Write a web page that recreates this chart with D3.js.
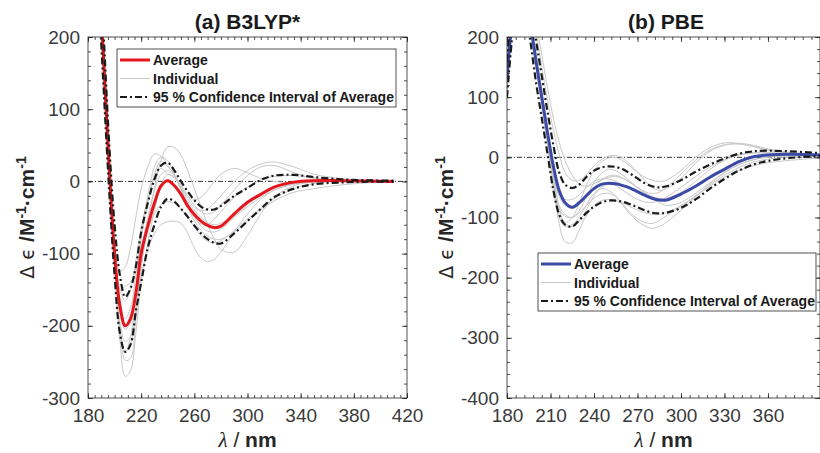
<!DOCTYPE html>
<html lang="en">
<head>
<meta charset="UTF-8">
<title>CD spectra: B3LYP* vs PBE</title>
<script src="https://d3js.org/d3.v7.min.js"></script>
<style>
    body { margin: 0; background: #fff; }
    svg { font-family: "Liberation Sans", Arial, Helvetica, sans-serif; }
    .tick text { fill: #3a3a3a; font-size: 19px; }
    .tick line { stroke: #262626; stroke-width: 0.8px; }
    .domain { display: none; }
    .frame { fill: none; stroke: #262626; stroke-width: 0.8px; }
    .indiv { fill: none; stroke: #c8c8c8; stroke-width: 1px; }
    .ci { fill: none; stroke: #1a1a1a; stroke-width: 2.2px; stroke-dasharray: 7,3,2,3; }
    .zero { stroke: #000; stroke-width: 0.8px; stroke-dasharray: 5,2,1,2; }
    .title { font-size: 21px; font-weight: bold; fill: #1a1a1a; }
    .legend rect { fill: #fff; stroke: #262626; stroke-width: 0.8px; }
    .legend text { font-size: 14px; font-weight: bold; fill: #1a1a1a; }
</style>
</head>
<body>
<svg width="820" height="453"></svg>
<script>
// ---- (a) B3LYP* ----
const lamA = [184,188,192,196,200,204,208,212,216,220,225,230,235,240,245,250,255,260,265,270,275,280,290,300,310,320,335,350,370,390,410];
const avgA = [440,298,160,18,-100,-172,-200,-190,-155,-100,-62,-30,-6,1,-6,-18,-34,-46,-55,-61,-64,-62,-45,-29,-18,-8,-1,1,1,0.5,0];
const upA  = [480,340,195,50,-60,-130,-160,-148,-118,-70,-30,3,22,26,15,0,-14,-26,-35,-39,-39,-34,-20,-9,2,8,9,6,3,1.5,1];
const loA  = [400,260,120,-15,-130,-210,-236,-226,-180,-140,-92,-60,-35,-24,-28,-38,-49,-61,-72,-80,-85,-86,-72,-55,-38,-22,-10,-4,-1.5,-0.5,-0.5];
const indA = [
    [470,330,180,20,-120,-220,-270,-262,-210,-140,-85,-40,-5,10,5,-10,-30,-48,-62,-69,-70,-66,-50,-32,-18,-8,-2,0,0,0,0],
    [420,270,130,0,-90,-124,-118,-92,-50,-10,20,38,35,22,8,-8,-24,-36,-40,-38,-30,-20,0,15,24,27,20,10,4,1,0],
    [450,310,170,15,-110,-200,-248,-245,-190,-120,-60,-10,30,48,47,36,15,-10,-35,-60,-80,-94,-98,-75,-45,-22,-6,-1,0,0,0],
    [460,320,175,25,-105,-210,-238,-215,-150,-80,-30,10,28,20,10,-10,-32,-50,-59,-60,-52,-42,-22,-8,2,7,8,5,2,1,0],
    [440,290,150,0,-120,-195,-222,-215,-180,-130,-95,-72,-60,-56,-55,-58,-72,-92,-106,-111,-108,-98,-70,-45,-25,-12,-3,0,0,0,0],
    [430,285,145,5,-95,-150,-165,-150,-110,-65,-25,5,18,10,6,-8,-20,-25,-22,-12,0,10,18,12,4,0,-2,-1,0,0,0],
    [450,305,160,10,-110,-180,-190,-175,-130,-70,-20,20,34,28,10,-12,-35,-55,-68,-76,-80,-80,-70,-55,-40,-27,-15,-10,-5,-2,-1],
    [450,310,165,12,-115,-205,-235,-225,-175,-115,-65,-30,-8,0,-5,-15,-28,-40,-50,-57,-60,-58,-48,-35,-22,-12,-4,0,1,0,0],
    [445,300,150,5,-105,-150,-145,-140,-120,-90,-65,-45,-32,-28,-30,-38,-50,-63,-75,-83,-85,-82,-68,-52,-38,-24,-10,-3,0,0,0],
    [440,300,155,10,-100,-180,-205,-195,-150,-95,-50,-12,10,15,8,-5,-20,-33,-42,-45,-42,-33,-12,8,20,22,12,4,1,0,0]
];

// ---- (b) PBE ----
const lamB = [180,184,188,192,196,200,204,208,212,216,220,225,230,235,240,245,250,255,260,265,270,275,280,285,290,300,310,320,330,340,350,360,375,396];
const avgB = [130,240,300,285,225,160,100,40,-15,-55,-75,-83,-75,-63,-52,-45,-43,-44,-47,-51,-57,-63,-68,-71,-71,-61,-48,-33,-20,-7,1,4,5,4];
const upB  = [160,270,320,310,255,195,135,75,20,-25,-45,-51,-45,-32,-22,-17,-15,-16,-20,-27,-35,-43,-48,-50,-48,-38,-24,-12,-2,6,10,11,10,7];
const loB  = [100,210,280,260,195,125,65,5,-55,-95,-112,-115,-104,-92,-82,-75,-72,-72,-74,-78,-83,-88,-92,-93,-92,-84,-70,-52,-36,-22,-12,-6,-1,2];
const indB = [
    [120,230,290,280,225,160,95,30,-45,-110,-140,-142,-120,-95,-80,-72,-70,-72,-76,-82,-88,-92,-95,-95,-92,-80,-64,-46,-30,-17,-8,-3,0,1],
    [150,260,320,315,270,210,150,95,45,5,-25,-38,-38,-28,-14,-4,2,3,-2,-12,-25,-38,-50,-55,-52,-35,-10,10,20,23,20,14,8,4],
    [140,245,305,295,240,170,105,40,-30,-80,-95,-100,-88,-65,-42,-27,-20,-22,-30,-40,-50,-57,-60,-58,-50,-28,-5,12,21,22,18,12,7,3],
    [110,220,285,275,215,150,85,20,-55,-100,-115,-112,-98,-78,-60,-52,-55,-65,-80,-95,-106,-114,-118,-115,-108,-88,-66,-44,-26,-12,-4,0,2,2],
    [130,240,300,290,230,165,100,35,-25,-65,-80,-85,-78,-64,-50,-38,-31,-30,-35,-42,-50,-60,-68,-75,-80,-75,-60,-42,-25,-12,-4,1,3,3],
    [145,255,315,300,240,175,110,45,-25,-85,-108,-100,-75,-45,-22,-8,-1,0,-6,-15,-25,-33,-38,-40,-38,-22,0,16,24,23,18,12,7,3],
    [115,225,290,280,220,155,90,25,-40,-85,-98,-100,-92,-80,-68,-61,-60,-65,-78,-92,-102,-108,-110,-105,-97,-82,-65,-48,-33,-22,-14,-9,-5,-1],
    [135,245,305,290,230,165,100,35,-30,-62,-70,-70,-62,-50,-40,-36,-36,-40,-46,-52,-58,-63,-67,-70,-70,-62,-50,-35,-20,-8,0,4,5,4],
    [155,265,325,320,280,225,170,115,65,25,-5,-30,-45,-48,-44,-38,-33,-32,-35,-42,-50,-58,-65,-68,-68,-58,-40,-20,-5,5,8,8,6,3],
    [125,235,295,285,225,160,95,25,-45,-95,-110,-115,-105,-86,-64,-50,-45,-47,-55,-63,-70,-74,-75,-72,-66,-50,-32,-16,-4,4,7,7,5,3]
];

const legendLabels = ["Average", "Individual", "95 % Confidence Interval of Average"];

const svg = d3.select("svg");
const plainNum = d => String(d);   // hyphen minus, as in the original

function drawPanel(p) {
    const x = d3.scaleLinear().domain(p.xDom).range([p.left, p.right]);
    const y = d3.scaleLinear().domain(p.yDom).range([p.bottom, p.top]);
    const g = svg.append("g");

    g.append("clipPath").attr("id", p.id + "clip")
        .append("rect")
        .attr("x", p.left).attr("y", p.top)
        .attr("width", p.right - p.left).attr("height", p.bottom - p.top);

    const plot = g.append("g").attr("clip-path", `url(#${p.id}clip)`);

    plot.append("line").attr("class", "zero")
        .attr("x1", p.left).attr("x2", p.right)
        .attr("y1", y(0)).attr("y2", y(0));

    const line = vals => d3.line()
        .x((d, i) => x(p.lam[i]))
        .y(d => y(d))
        .curve(d3.curveCatmullRom.alpha(0.5))(vals);

    plot.selectAll(".indiv").data(p.ind).enter()
        .append("path").attr("class", "indiv").attr("d", d => line(d));

    plot.append("path").attr("d", line(p.avg))
        .attr("fill", "none").attr("stroke", p.color).attr("stroke-width", 3);

    plot.selectAll(".ci").data([p.up, p.lo]).enter()
        .append("path").attr("class", "ci").attr("d", d => line(d));

    // ticks, all four sides, pointing inward
    const h = p.bottom - p.top, w = p.right - p.left;
    g.append("g").attr("transform", `translate(0,${p.bottom})`)
        .call(d3.axisBottom(x).tickValues(p.xMinor).tickSize(-3).tickFormat(""));
    g.append("g").attr("transform", `translate(0,${p.bottom})`)
        .call(d3.axisBottom(x).tickValues(p.xMajor).tickSize(-5).tickPadding(11).tickFormat(plainNum));
    g.append("g").attr("transform", `translate(0,${p.top})`)
        .call(d3.axisTop(x).tickValues(p.xMinor).tickSize(-3).tickFormat(""));
    g.append("g").attr("transform", `translate(0,${p.top})`)
        .call(d3.axisTop(x).tickValues(p.xMajor).tickSize(-5).tickFormat(""));

    g.append("g").attr("transform", `translate(${p.left},0)`)
        .call(d3.axisLeft(y).tickValues(p.yMinor).tickSize(-3).tickFormat(""));
    g.append("g").attr("transform", `translate(${p.left},0)`)
        .call(d3.axisLeft(y).tickValues(p.yMajor).tickSize(-5).tickPadding(8).tickFormat(plainNum));
    g.append("g").attr("transform", `translate(${p.right},0)`)
        .call(d3.axisRight(y).tickValues(p.yMinor).tickSize(-3).tickFormat(""));
    g.append("g").attr("transform", `translate(${p.right},0)`)
        .call(d3.axisRight(y).tickValues(p.yMajor).tickSize(-5).tickFormat(""));

    g.selectAll(".tick text").style("font-family", '"Liberation Sans", Arial, sans-serif');

    g.append("rect").attr("class", "frame")
        .attr("x", p.left).attr("y", p.top).attr("width", w).attr("height", h);

    // title
    g.append("text").attr("class", "title")
        .attr("x", p.titleX).attr("y", 29)
        .attr("text-anchor", "middle").text(p.title);

    // x label
    const xl = g.append("text")
        .attr("x", (p.left + p.right) / 2).attr("y", 447)
        .attr("text-anchor", "middle").attr("font-size", 21).attr("fill", "#262626");
    xl.append("tspan").attr("font-family", '"Liberation Serif", serif').attr("font-style", "italic").text("λ");
    xl.append("tspan").text(" / ");
    xl.append("tspan").attr("font-weight", "bold").text("nm");

    // y label
    const yl = g.append("text")
        .attr("transform", `translate(${p.left - 54},${(p.top + p.bottom) / 2}) rotate(-90)`)
        .attr("text-anchor", "middle").attr("font-size", 21).attr("fill", "#262626");
    yl.append("tspan").attr("font-family", '"DejaVu Sans", sans-serif').attr("font-size", 19).text("Δ ϵ ");
    yl.append("tspan").attr("font-weight", "bold").text("/M");
    yl.append("tspan").attr("font-weight", "bold").attr("font-size", 14).attr("dy", -8).text("-1");
    yl.append("tspan").attr("font-weight", "bold").attr("dy", 8).text("·cm");
    yl.append("tspan").attr("font-weight", "bold").attr("font-size", 14).attr("dy", -8).text("-1");

    // legend
    const lg = g.append("g").attr("class", "legend");
    lg.append("rect").attr("x", p.leg[0]).attr("y", p.leg[1]).attr("width", p.leg[2]).attr("height", 58);
    const rows = [
        { stroke: p.color, w: 3, dash: null },
        { stroke: "#c8c8c8", w: 1, dash: null },
        { stroke: "#1a1a1a", w: 2, dash: "7,3,2,3" }
    ];
    rows.forEach((r, i) => {
        const cy = p.leg[1] + 11 + i * 18.5;
        lg.append("line")
            .attr("x1", p.leg[0] + 3).attr("x2", p.leg[0] + 33)
            .attr("y1", cy).attr("y2", cy)
            .attr("stroke", r.stroke).attr("stroke-width", r.w)
            .attr("stroke-dasharray", r.dash);
        lg.append("text").attr("x", p.leg[0] + 36).attr("y", cy + 5).text(legendLabels[i]);
    });
}

drawPanel({
    id: "a", title: "(a) B3LYP*", titleX: 247.5, color: "#e5161d",
    left: 88, right: 407, top: 37, bottom: 398,
    xDom: [180, 420], yDom: [-300, 200],
    xMajor: d3.range(180, 421, 40), xMinor: d3.range(180, 421, 5),
    yMajor: d3.range(-300, 201, 100), yMinor: d3.range(-300, 201, 20),
    lam: lamA, avg: avgA, up: upA, lo: loA, ind: indA,
    leg: [117, 49, 279]
});

drawPanel({
    id: "b", title: "(b) PBE", titleX: 666, color: "#3a4aa6",
    left: 507, right: 820, top: 37, bottom: 398,
    xDom: [180, 395.9], yDom: [-400, 200],
    xMajor: d3.range(180, 361, 30), xMinor: d3.range(180, 396, 6),
    yMajor: d3.range(-400, 201, 100), yMinor: d3.range(-400, 201, 20),
    lam: lamB, avg: avgB, up: upB, lo: loB, ind: indB,
    leg: [538, 253, 278]
});
</script>
</body>
</html>
